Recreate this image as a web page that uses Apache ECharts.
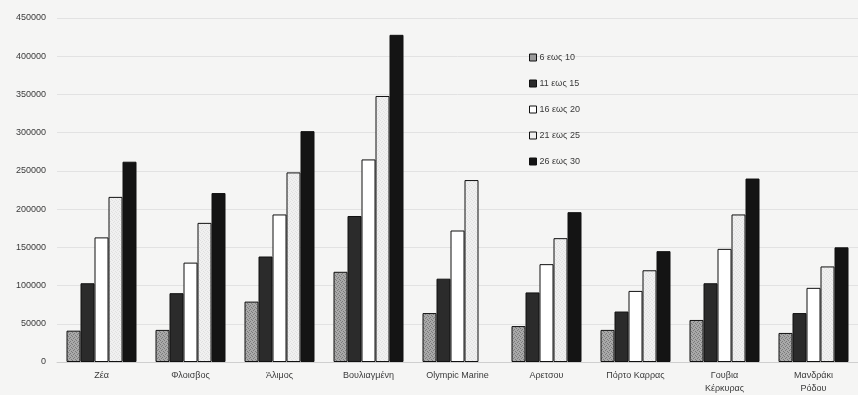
<!DOCTYPE html>
<html>
<head>
<meta charset="utf-8">
<script src="https://cdn.jsdelivr.net/npm/echarts@6/dist/echarts.min.js"></script>
<style>
  html, body { margin: 0; padding: 0; background: #f5f5f4; }
  #chart { width: 858px; height: 395px; }
</style>
</head>
<body>
<div id="chart"></div>
<script>
// Marinas (categories)
const marinas = ['Ζέα', 'Φλοισβος', 'Άλιμος', 'Βουλιαγμένη', 'Olympic Marine', 'Αρετσου', 'Πόρτο Καρρας', 'Γουβια\nΚέρκυρας', 'Μανδράκι\nΡόδου'];

// Size classes (series names)
const sizeClasses = ['6 εως 10', '11 εως 15', '16 εως 20', '21 εως 25', '26 εως 30'];

// Values per size class, one per marina
const s6to10  = [41000, 42000, 79000, 118000, 64000, 47000, 42000, 55000, 38000];
const s11to15 = [103000, 90000, 138000, 191000, 109000, 91000, 66000, 103000, 64000];
const s16to20 = [163000, 130000, 193000, 265000, 172000, 128000, 93000, 148000, 97000];
const s21to25 = [216000, 182000, 248000, 348000, 238000, 162000, 120000, 193000, 125000];
const s26to30 = [262000, 221000, 302000, 428000, null, 196000, 145000, 240000, 150000];

// Y axis ticks
const yMin = 0, yMax = 450000, yStep = 50000;

const seriesValues = [s6to10, s11to15, s16to20, s21to25, s26to30];

// Small repeating tile: gray with a fine stipple
function stipple(base, dot) {
  const c = document.createElement('canvas');
  c.width = 4; c.height = 4;
  const g = c.getContext('2d');
  g.fillStyle = base; g.fillRect(0, 0, 4, 4);
  g.fillStyle = dot;
  g.fillRect(0, 0, 1, 1); g.fillRect(2, 1, 1, 1);
  g.fillRect(1, 2, 1, 1); g.fillRect(3, 3, 1, 1);
  return { image: c, repeat: 'repeat' };
}

const fills = [
  stipple('#a9a9a9', '#7a7a7a'),
  '#2b2b2b',
  '#ffffff',
  stipple('#f0f0f0', '#e0e0e0'),
  '#141414'
];
const legendFills = ['#9a9a9a', '#2b2b2b', '#ffffff', '#eeeeee', '#141414'];

const font = 'Liberation Sans, Arial, sans-serif';

const chart = echarts.init(document.getElementById('chart'), null, { renderer: 'canvas' });

chart.setOption({
  backgroundColor: '#f5f5f4',
  animation: false,
  grid: { left: 57, top: 18, width: 819, bottom: 33, containLabel: false },
  legend: {
    orient: 'vertical',
    left: 524,
    top: 48,
    itemWidth: 7,
    itemHeight: 7,
    itemGap: 17,
    icon: 'rect',
    textStyle: { fontFamily: font, fontSize: 9, color: '#3a3a3a', padding: [0, 0, 0, -2] },
    data: sizeClasses.map((name, i) => ({
      name,
      itemStyle: { color: legendFills[i], borderColor: '#111', borderWidth: 1 }
    }))
  },
  xAxis: {
    type: 'category',
    data: marinas,
    axisLine: { show: true, lineStyle: { color: '#cfcfcf', width: 1 } },
    axisTick: { show: false },
    axisLabel: { fontFamily: font, fontSize: 9, color: '#3a3a3a', margin: 7, interval: 0, lineHeight: 13 }
  },
  yAxis: {
    type: 'value',
    min: yMin,
    max: yMax,
    interval: yStep,
    axisLine: { show: false },
    axisTick: { show: false },
    axisLabel: { fontFamily: font, fontSize: 9, color: '#3a3a3a', margin: 11, formatter: v => String(v) },
    splitLine: { show: true, lineStyle: { color: '#e2e2e2', width: 1 } }
  },
  series: sizeClasses.map((name, i) => ({
    name,
    type: 'bar',
    data: seriesValues[i],
    barWidth: 14,
    barGap: '0%',
    itemStyle: { color: fills[i], borderColor: '#111', borderWidth: 1 },
    emphasis: { disabled: true }
  }))
});
</script>
</body>
</html>
